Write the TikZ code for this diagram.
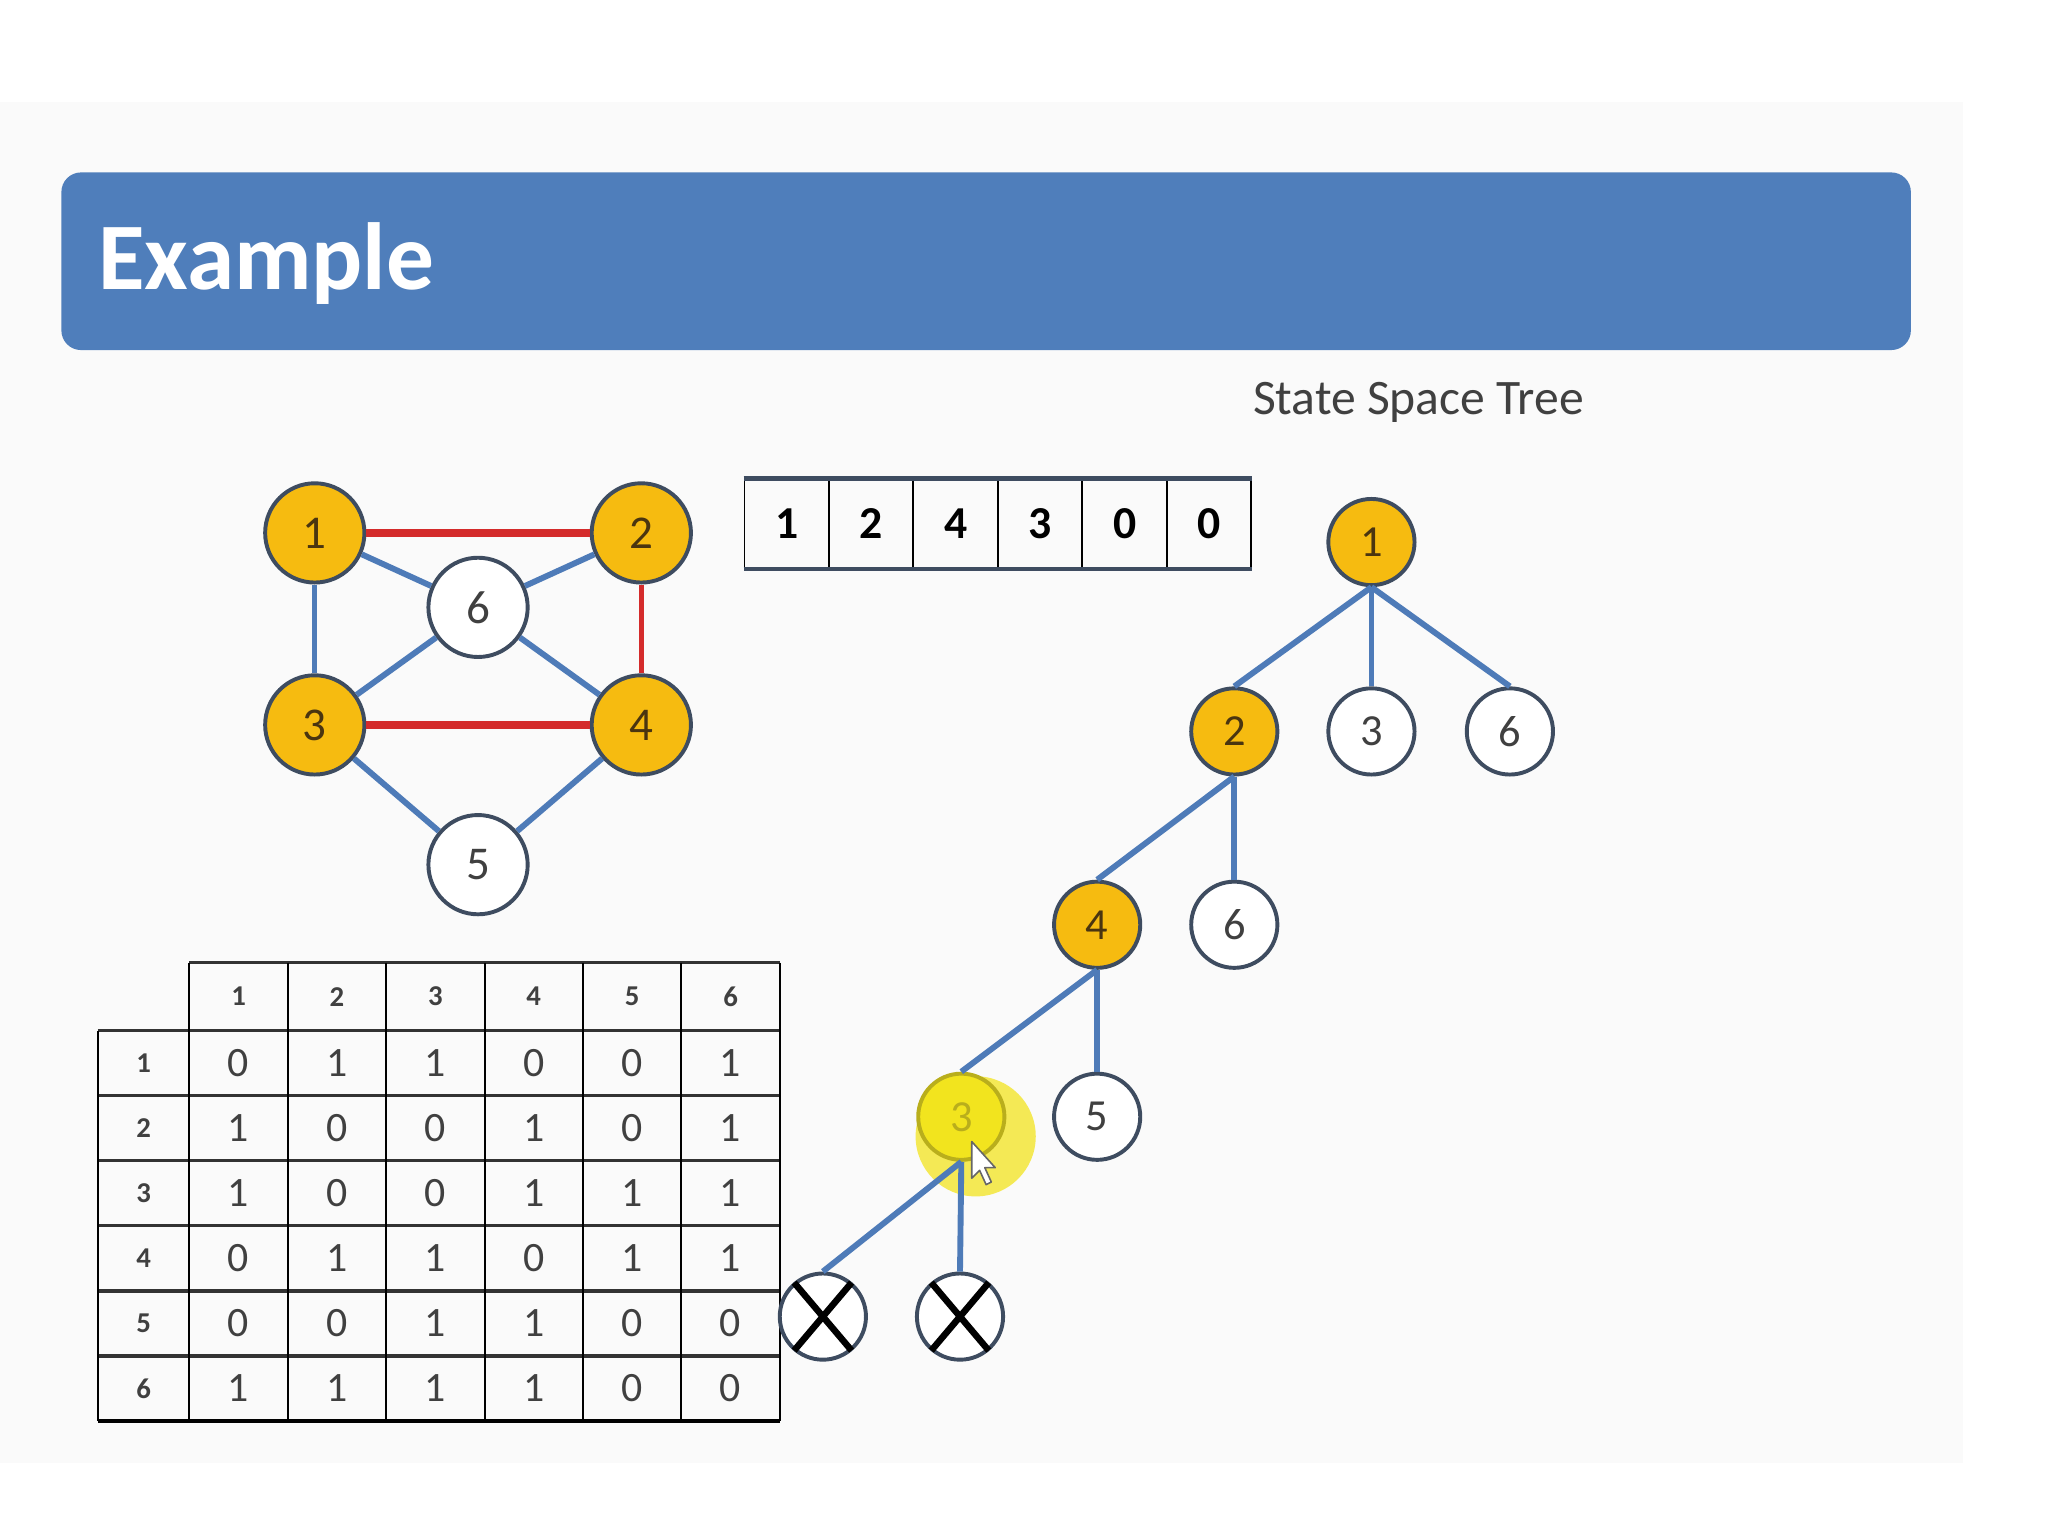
\documentclass[tikz,border=0pt]{standalone}
\usepackage{fontspec}
\setmainfont{Carlito}
\definecolor{slidecol}{HTML}{FAFAFA}
\definecolor{titlecol}{HTML}{4F7EBB}
\definecolor{nodecol}{HTML}{F6BB10}
\definecolor{rimcol}{HTML}{3E4C60}
\definecolor{edgecol}{HTML}{4E7BB8}
\definecolor{redcol}{HTML}{D42B2B}
\definecolor{textcol}{HTML}{404040}
\definecolor{digitcol}{HTML}{4A3510}
\definecolor{litcol}{HTML}{F2E41E}
\definecolor{olivecol}{HTML}{B9AE1C}

\begin{document}
\begin{tikzpicture}[x=1pt,y=-1pt,
	vtx/.style={circle,draw=rimcol,line width=3pt,inner sep=0pt,text=textcol,fill=white},
	goldvtx/.style={vtx,fill=nodecol,text=digitcol},
	gsize/.style={minimum size=76pt,font=\fontsize{36}{36}\selectfont},
	tsize/.style={minimum size=66pt,font=\fontsize{34}{34}\selectfont},
	blueline/.style={draw=edgecol,line width=4.5pt},
	redline/.style={draw=redcol,line width=5.5pt},
	slot/.style={draw=black,line width=1.5pt,minimum width=64.67pt,minimum height=68pt,inner sep=0pt,font=\fontsize{35}{35}\selectfont\bfseries},
	entry/.style={inner sep=0pt,text=textcol,font=\fontsize{32}{32}\selectfont},
	head/.style={inner sep=0pt,text=textcol,font=\fontsize{22}{22}\selectfont\bfseries}
	]
\useasboundingbox (0,0) rectangle (1568,1176);
\fill[white] (0,0) rectangle (1568,1176);
\fill[slidecol] (0,78) rectangle (1503,1120);
% title bar
\fill[titlecol,rounded corners=15pt] (47,132) rectangle (1463,268);
\node[anchor=base west,inner sep=0pt,text=white,font=\fontsize{73}{73}\selectfont\bfseries] (title) at (75,222) {Example};
\node[text=textcol,font=\fontsize{38}{38}\selectfont] (treetitle) at (1086,308) {State Space Tree};
% graph
\node[goldvtx,gsize] (g1) at (241,408) {1};
\node[goldvtx,gsize] (g2) at (491,408) {2};
\node[vtx,gsize] (g6) at (366,465) {6};
\node[goldvtx,gsize] (g3) at (241,555) {3};
\node[goldvtx,gsize] (g4) at (491,555) {4};
\node[vtx,gsize] (g5) at (366,662) {5};
\draw[redline] (g1) -- (g2);
\draw[redline] (g3) -- (g4);
\draw[redline,line width=3.5pt] (g2) -- (g4);
\draw[blueline,line width=3.5pt] (g1) -- (g3);
\foreach \a/\b in {g1/g6,g2/g6,g3/g6,g4/g6,g3/g5,g4/g5}
	\draw[blueline] (\a) -- (\b);
% colour array
\foreach \val [count=\i] in {1,2,4,3,0,0}
	\node[slot] (a\i) at ({570+64.67*(\i-0.5)},401) {\val};
\draw[rimcol,line width=3.5pt] (a1.north west) -- (a6.north east);
\draw[rimcol,line width=3.5pt] (a1.south west) -- (a6.south east);
% adjacency matrix
\foreach \c in {1,...,6}
	\node[head] (h\c) at ({145+75.33*(\c-0.5)},763) {\c};
\foreach \row [count=\r] in {{0,1,1,0,0,1},{1,0,0,1,0,1},{1,0,0,1,1,1},{0,1,1,0,1,1},{0,0,1,1,0,0},{1,1,1,1,0,0}}{
	\node[head] (l\r) at (110,{789+49.83*(\r-0.5)}) {\r};
	\foreach \v [count=\c] in \row
		\node[entry] (m\r\c) at ({145+75.33*(\c-0.5)},{789+49.83*(\r-0.5)}) {\v};
	}
\draw[black!80,line width=2.5pt] (145,737) -- (597,737);
\foreach \k in {0,...,5}
	\draw[black!80,line width=2.5pt] (75,{789+49.83*\k}) -- (597,{789+49.83*\k});
\draw[black,line width=3pt] (75,1088) -- (597,1088);
\draw[black,line width=1.5pt] (75,789) -- (75,1088);
\foreach \k in {0,...,6}
	\draw[black,line width=1.5pt] ({145+75.33*\k},737) -- ({145+75.33*\k},1088);
% state space tree
\fill[litcol,opacity=0.75] (747,870) circle (46);
\node[goldvtx,tsize] (t1) at (1050,415) {1};
\node[goldvtx,tsize] (t12) at (945,560) {2};
\node[vtx,tsize] (t13) at (1050,560) {3};
\node[vtx,tsize] (t16) at (1156,560) {6};
\node[goldvtx,tsize] (t124) at (840,708) {4};
\node[vtx,tsize] (t126) at (945,708) {6};
\node[goldvtx,tsize,fill=litcol,draw=olivecol,text=olivecol] (t1243) at (736,855) {3};
\node[vtx,tsize] (t1245) at (840,855) {5};
\node[vtx,tsize] (tx1) at (630,1008) {};
\node[vtx,tsize] (tx2) at (735,1008) {};
\foreach \a/\b in {t1/t12,t1/t13,t1/t16,t12/t124,t12/t126,t124/t1243,t124/t1245,t1243/tx1,t1243/tx2}
	\draw[blueline] (\a.south) -- (\b.north);
\foreach \x in {tx1,tx2}{
	\draw[black,line width=5pt] ([shift={(-22,-26)}]\x.center) -- ([shift={(22,26)}]\x.center);
	\draw[black,line width=5pt] ([shift={(22,-26)}]\x.center) -- ([shift={(-22,26)}]\x.center);
	}
% pointer
\filldraw[fill=white,draw=black!60,line width=1.2pt,line join=round] (744,874) -- (744,902) -- (750,896) -- (755,907) -- (759,905) -- (754,894) -- (762,894) -- cycle;
\end{tikzpicture}
\end{document}
